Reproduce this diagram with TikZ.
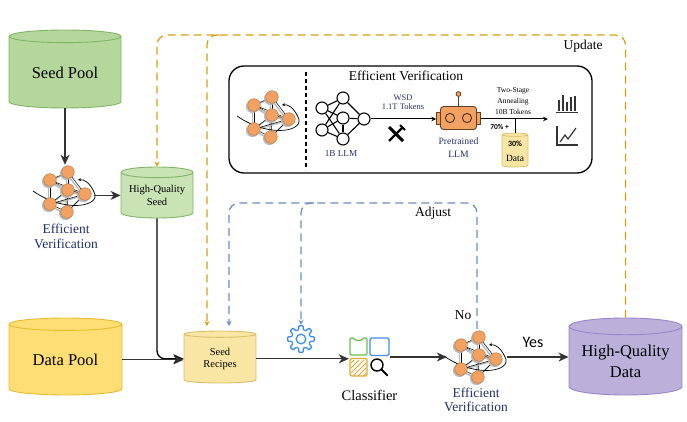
\documentclass[tikz,border=0pt]{standalone}
\usepackage{fontspec}
\setmainfont{Liberation Serif}
\newfontfamily\carfont{Carlito}
\usetikzlibrary{shapes.geometric,arrows.meta,positioning,calc}
\definecolor{seedgreen}{HTML}{B5D79C}
\definecolor{seedline}{HTML}{82B366}
\definecolor{hqgreen}{HTML}{C9E3B5}
\definecolor{poolyellow}{HTML}{FFDE75}
\definecolor{poolline}{HTML}{E8BB2E}
\definecolor{recyellow}{HTML}{FAE6A4}
\definecolor{recline}{HTML}{D9BE6A}
\definecolor{hqpurple}{HTML}{BCB0DA}
\definecolor{hqline}{HTML}{9886CC}
\definecolor{updorange}{HTML}{D89E12}
\definecolor{adjblue}{HTML}{6C8EBF}
\definecolor{netorange}{HTML}{F2A161}
\definecolor{navy}{HTML}{22306A}
\definecolor{iconblue}{HTML}{3D8EF0}
\definecolor{icongreen}{HTML}{6CC04A}
\definecolor{iconorange}{HTML}{E2A92F}
\definecolor{linegray}{HTML}{333333}
\newcommand{\fsz}[2]{\fontsize{#1}{#2}\selectfont}
\tikzset{
  db/.style={cylinder, shape border rotate=90, draw, aspect=0.19, line width=0.9pt, anchor=shape center, align=center, inner sep=0pt},
  arr/.style={-{Stealth[length=10pt,width=9pt,inset=3pt]}, line width=1.3pt, draw=linegray},
  upd/.style={draw=updorange, line width=1.2pt, dash pattern=on 8pt off 5pt, rounded corners=10pt, -{Stealth[length=5pt,width=5pt]}},
  adj/.style={upd, draw=adjblue},
  lbl/.style={text=navy, align=center},
  neuron/.style={circle, draw, line width=1.1pt, fill=white, minimum size=12pt, inner sep=0pt},
  evnet/.pic={
    \foreach \n/\px/\py in {A/2/-20,B/-16/-12,C/2/-2,D/19/2,E/-16/12,F/1/20}
      \coordinate (ev\n) at (\px,\py);
    \foreach \s/\t in {A/B,A/C,A/D,B/C,B/E,B/D,C/E,C/F,C/D,D/F,E/F,E/D}{
      \draw[gray!55, line width=1.4pt] ([shift={(-1.5,1.5)}]ev\s) -- ([shift={(-1.5,1.5)}]ev\t);
      \draw[black, line width=0.5pt] (ev\s) -- (ev\t);
    }
    \draw[line width=0.7pt, -{Stealth[length=3pt,width=3pt]}] (-33,-1) .. controls (0,22) and (36,14) .. (28,0) .. controls (24,-9) and (18,-13) .. (12,-12);
    \foreach \n in {A,...,F}{
      \fill[gray!55] ([shift={(-1.5,1.5)}]ev\n) circle (6.6);
      \filldraw[fill=netorange, draw=netorange!70!black, line width=0.4pt] (ev\n) circle (6.3);
    }
  },
  robot/.pic={
    \draw[line width=0.9pt, fill=netorange, draw=netorange!40!black] (0,-11.5) -- (0,-22);
    \filldraw[fill=netorange, draw=netorange!40!black, line width=0.8pt] (0,-24) circle (2.4);
    \filldraw[fill=netorange, draw=netorange!40!black, line width=0.8pt] (-22,-6) rectangle (-18,6);
    \filldraw[fill=netorange, draw=netorange!40!black, line width=0.8pt] (18,-6) rectangle (22,6);
    \filldraw[fill=netorange, draw=netorange!40!black, line width=0.9pt, rounded corners=3pt] (-18,-11.5) rectangle (18,11.5);
    \draw[netorange!30!black, line width=0.9pt] (-8.5,0) circle (4.6) (8.5,0) circle (4.6);
  }
}
\begin{document}
\begin{tikzpicture}[x=1pt,y=-1pt]
\useasboundingbox (0,0) rectangle (687,422);
% storage
\node[db, fill=seedgreen, draw=seedline, minimum width=112pt, minimum height=78pt, font=\fsz{16.5}{20}] (seedpool) at (65,69) {Seed Pool};
\node[db, fill=hqgreen, draw=seedline, minimum width=72pt, minimum height=51pt, font=\fsz{10.5}{12.5}] (hqseed) at (157,192.5) {High-Quality\\Seed};
\node[db, fill=poolyellow, draw=poolline, minimum width=113pt, minimum height=77pt, font=\fsz{16.5}{20}] (datapool) at (65.5,356.5) {Data Pool};
\node[db, fill=recyellow, draw=recline, minimum width=72pt, minimum height=52pt, font=\fsz{10.5}{12.5}] (recipes) at (220,357) {Seed\\Recipes};
\node[db, fill=hqpurple, draw=hqline, minimum width=113pt, minimum height=77pt, font=\fsz{16.5}{21}] (hqdata) at (625.5,356.5) {High-Quality\\Data};
% icons
\node[minimum width=56pt, minimum height=54pt, inner sep=0pt] (ev1) at (66,192) {};
\pic at (ev1) {evnet};
\node[lbl, font=\fsz{13.5}{15}] at (66,236) {Efficient\\Verification};
\node[minimum width=60pt, minimum height=56pt, inner sep=0pt] (ev2) at (477,357) {};
\pic at (ev2) {evnet};
\node[lbl, font=\fsz{13.5}{14.5}] at (476,400) {Efficient\\Verification};
\node[minimum width=41pt, minimum height=40pt, inner sep=0pt] (clf) at (369.5,357) {};
\begin{scope}[shift={(clf)}]
  \draw[icongreen, line width=1.3pt, rounded corners=1.2pt] (-19.5,-2) -- (-19.5,-19) -- (-15.5,-19) .. controls (-14,-16) and (-8,-16) .. (-6.5,-19) -- (-2.5,-19) -- (-2.5,-2) -- cycle;
  \draw[iconblue, line width=1.3pt, rounded corners=1.5pt] (0.5,-19) rectangle (19.5,-1.5);
  \draw[iconorange, line width=1.3pt, rounded corners=1.5pt] (-19.5,1.5) rectangle (-2.5,19);
  \begin{scope}
    \clip (-18.5,2.5) rectangle (-3.5,18);
    \foreach \k in {-12,-7,...,18}
      \draw[iconorange, line width=0.9pt] (-19.5+\k,19) -- (-3.5+\k,3);
  \end{scope}
  \draw[black, line width=1.4pt] (7.5,8) circle (6);
  \draw[black, line width=2pt, line cap=round] (12,12.5) -- (18,18.5);
\end{scope}
\node[font=\fsz{14.5}{16}] at (369.5,395) {Classifier};
\node[minimum size=28pt, inner sep=0pt] (gear) at (301,339) {};
\begin{scope}[shift={(gear)}]
  \draw[iconblue, line width=1.3pt, rounded corners=0.8pt] (-14:9.5) \foreach \a in {0,45,...,315}{ -- (\a-14:9.5) -- (\a-9:13.5) -- (\a+9:13.5) -- (\a+14:9.5) } -- cycle;
  \draw[iconblue, line width=1.3pt] (0,0) circle (4.8);
\end{scope}
% main flow
\draw[arr] (seedpool.south) -- (seedpool.south |- ev1.north);
\draw[arr] (ev1.east |- hqseed.west) -- (hqseed.west);
\draw[arr, draw=black, rounded corners=8pt] (hqseed.south) |- (recipes.west);
\draw[arr] (datapool.east) -- (datapool.east -| recipes.west);
\draw[arr] (recipes.east) -- (recipes.east -| clf.west);
\draw[arr] (clf.east) -- (clf.east -| ev2.west);
\draw[arr] (ev2.east) -- (ev2.east -| hqdata.west);
\node[font=\carfont\fsz{16}{18}] (yes) at (533,342) {Yes};
% feedback
\coordinate (updtop) at (400,35);
\coordinate (updbr) at (219,35);
\coordinate (rin1) at (207,326);
\coordinate (rin2) at (229,326);
\coordinate (adjtop) at (350,203);
\coordinate (adjbr) at (314,203);
\draw[upd] (hqdata.north) |- (updtop) -| (hqseed.north);
\draw[upd] (updbr) -| (rin1);
\draw[adj] (ev2.north) |- (adjtop) -| (rin2);
\draw[adj] (adjbr) -| (gear.north);
\node[font=\fsz{13.5}{15}] at (583,46) {Update};
\node[font=\fsz{13.5}{15}] at (433,213) {Adjust};
\node[font=\fsz{13.5}{15}] at (463,315) {No};
% efficient verification panel
\node[draw, line width=1.3pt, rounded corners=15pt, minimum width=363pt, minimum height=107pt] (evbox) at (410.5,119.5) {};
\node[font=\fsz{13.5}{15}] at (406,76) {Efficient Verification};
\draw[line width=1.3pt, dash pattern=on 4pt off 3pt] (306,72) -- (306,170);
\pic at (270,117) {evnet};
\node[neuron] (n1) at (322,108) {};
\node[neuron] (n2) at (322,130) {};
\node[neuron] (n3) at (343,98) {};
\node[neuron] (n4) at (343,118) {};
\node[neuron] (n5) at (343,139) {};
\node[neuron] (nout) at (364,119) {};
\foreach \a in {n1,n2}
  \foreach \b in {n3,n4,n5}
    \draw[line width=1.1pt] (\a) -- (\b);
\foreach \b in {n3,n4,n5}
  \draw[line width=1.1pt] (\b) -- (nout);
\draw[line width=1.1pt] (n4) -- (n5);
\node[lbl, font=\fsz{9.2}{11}] at (341,153) {1B LLM};
\node[minimum width=44pt, minimum height=24pt, inner sep=0pt] (robot) at (458.5,118) {};
\pic at (robot) {robot};
\draw[-{Stealth[length=5pt,width=4.5pt]}, line width=1pt] (nout) -- (nout -| robot.west);
\node[lbl, font=\fsz{8.5}{9.5}] at (403,102) {WSD\\1.1T Tokens};
\begin{scope}[shift={(396,134)}]
  \draw[line width=3pt] (-7,-7) -- (7,7);
  \draw[line width=2.2pt] (6.5,-6.5) -- (-7,7);
  \draw[line width=1.8pt] (4,-9) -- (6.5,-6.5) -- (9,-4);
\end{scope}
\node[lbl, font=\fsz{9.7}{13}] at (458.5,148) {Pretrained\\LLM};
\coordinate (chartin) at (548,119);
\draw[-{Stealth[length=5pt,width=4.5pt]}, line width=1pt] (robot.east |- chartin) -- (chartin);
\node[align=center, font=\fsz{7.5}{11}] at (513,101) {Two-Stage\\Annealing\\10B Tokens};
\node[db, fill=recyellow, draw=recline, minimum width=26pt, minimum height=34pt, line width=0.7pt, font=\fsz{9.5}{12}] (mixdata) at (515,150) {{\carfont\bfseries\fsz{8}{10}30\%}\\[3pt]Data};
\draw[line width=1pt] (mixdata.north) -- (mixdata.north |- chartin);
\node[font=\carfont\bfseries\fsz{7.5}{9}] at (499.5,127) {70\% +};
\foreach \xx/\hh in {0/11,4/16,8/9,12/14,16/15}
  \fill[linegray] (557.5+\xx,111) rectangle ++(2.8,-\hh);
\draw[linegray, line width=1pt] (555.5,113) -- (578,113);
\draw[linegray, line width=1.2pt] (557,126) -- (557,145) -- (578,145);
\draw[linegray, line width=1.2pt] (560,142) -- (565,135) -- (568,139) -- (576,128);
\end{tikzpicture}
\end{document}
